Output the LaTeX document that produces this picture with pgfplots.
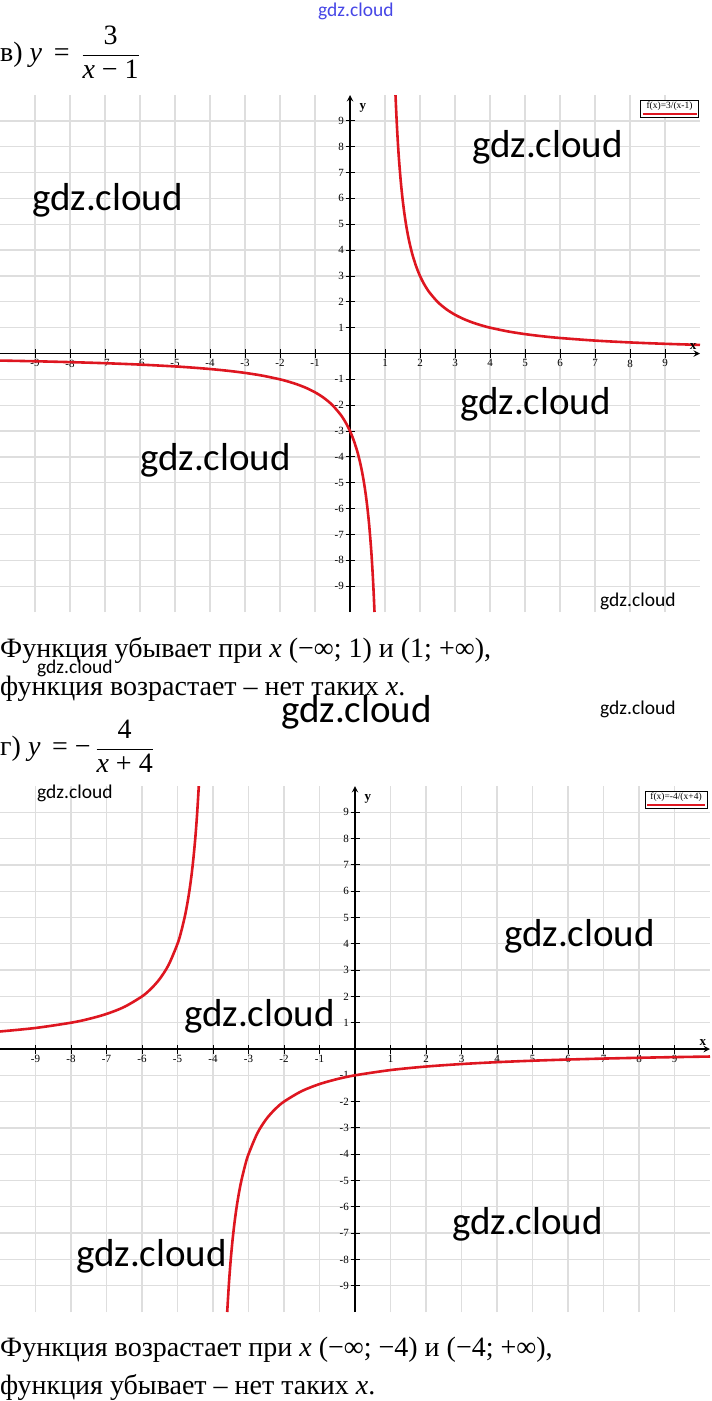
\documentclass[border=0pt]{standalone}
\usepackage{fontspec}
\setmainfont{Liberation Serif}
\newfontfamily\wm{Carlito}
\usepackage{pgfplots}
\pgfplotsset{compat=1.18}
\definecolor{curve}{RGB}{222,22,32}
\definecolor{gridc}{RGB}{222,222,222}
\definecolor{wmblue}{RGB}{70,70,230}
\pgfplotsset{myax/.style={
  scale only axis, axis lines=middle,
  xmin=-10,xmax=10,ymin=-10,ymax=10,
  xtick={-9,-8,-7,-6,-5,-4,-3,-2,-1,1,2,3,4,5,6,7,8,9},
  ytick={-9,-8,-7,-6,-5,-4,-3,-2,-1,1,2,3,4,5,6,7,8,9},
  grid=major, major grid style={line width=1.3pt, gridc},
  axis line style={line width=1.8pt, black},
  tick style={line width=0.9pt, black},
  major tick length=9pt, tick align=center,
  /pgf/number format/assume math mode=true,
  ticklabel style={font=\fontsize{11}{11}\selectfont, inner sep=1.5pt},
  xlabel={x}, ylabel={y},
  every axis x label/.style={at={(axis description cs:0.99,0.5)}, anchor=south, font=\bfseries\fontsize{13}{13}\selectfont},
  every axis y label/.style={at={(axis description cs:0.5,0.99)}, anchor=north west, xshift=6pt, font=\bfseries\fontsize{13}{13}\selectfont},
  clip=true,
}}
\pgfplotstableread{
x y
-10 -0.2727
-9 -0.3
-8 -0.3333
-7 -0.375
-6 -0.4286
-5 -0.5
-4.5 -0.5455
-4 -0.6
-3.5 -0.6667
-3 -0.75
-2.5 -0.8571
-2 -1
-1.75 -1.0909
-1.5 -1.2
-1.25 -1.3333
-1 -1.5
-0.75 -1.7143
-0.5 -2
-0.25 -2.4
-0.1 -2.7273
0 -3
0.1 -3.3333
0.2 -3.75
0.25 -4
0.3 -4.2857
0.35 -4.6154
0.4 -5
0.45 -5.4545
0.5 -6
0.55 -6.6667
0.6 -7.5
0.625 -8
0.65 -8.5714
0.675 -9.2308
0.7 -10
}\leftA
\pgfplotstableread{
x y
1.3 10
1.325 9.2308
1.35 8.5714
1.375 8
1.4 7.5
1.45 6.6667
1.5 6
1.55 5.4545
1.6 5
1.65 4.6154
1.7 4.2857
1.75 4
1.8 3.75
1.9 3.3333
2 3
2.1 2.7273
2.25 2.4
2.5 2
2.75 1.7143
3 1.5
3.25 1.3333
3.5 1.2
3.75 1.0909
4 1
4.5 0.8571
5 0.75
5.5 0.6667
6 0.6
7 0.5
8 0.4286
9 0.375
10 0.3333
}\rightA
\pgfplotstableread{
x y
-10 0.6667
-9 0.8
-8 1
-7.5 1.1429
-7 1.3333
-6.5 1.6
-6 2
-5.75 2.2857
-5.5 2.6667
-5.25 3.2
-5 4
-4.9 4.4444
-4.8 5
-4.75 5.3333
-4.7 5.7143
-4.65 6.1538
-4.6 6.6667
-4.55 7.2727
-4.5 8
-4.45 8.8889
-4.4 10
}\leftB
\pgfplotstableread{
x y
-3.6 -10
-3.55 -8.8889
-3.5 -8
-3.45 -7.2727
-3.4 -6.6667
-3.35 -6.1538
-3.3 -5.7143
-3.25 -5.3333
-3.2 -5
-3.1 -4.4444
-3 -4
-2.75 -3.2
-2.5 -2.6667
-2.25 -2.2857
-2 -2
-1.5 -1.6
-1 -1.3333
-0.5 -1.1429
0 -1
1 -0.8
2 -0.6667
3 -0.5714
4 -0.5
5 -0.4444
6 -0.4
7 -0.3636
8 -0.3333
9 -0.3077
10 -0.2857
}\rightB
\begin{document}
\begin{tikzpicture}
\path[use as bounding box] (0pt,0pt) rectangle (712pt,-1401pt);
% plot 1
\begin{axis}[myax, width=700pt, height=517pt, at={(0pt,-612pt)}, anchor=south west]
\addplot[curve, line width=2.6pt, smooth] table {\leftA};
\addplot[curve, line width=2.6pt, smooth] table {\rightA};
\end{axis}
% plot 2
\begin{axis}[myax, width=710pt, height=526pt, at={(0pt,-1312pt)}, anchor=south west]
\addplot[curve, line width=2.6pt, smooth] table {\leftB};
\addplot[curve, line width=2.6pt, smooth] table {\rightB};
\end{axis}
% legends
\node[draw, line width=0.8pt, fill=white, inner sep=2pt, align=center, font=\fontsize{9.5}{9.5}\selectfont] at (669.5pt,-108.5pt) {f(x)=3/(x-1)\\[-3pt]\textcolor{curve}{\rule{54pt}{2pt}}};
\node[draw, line width=0.8pt, fill=white, inner sep=2pt, align=center, font=\fontsize{9.5}{9.5}\selectfont] at (676pt,-799.5pt) {f(x)=-4/(x+4)\\[-3pt]\textcolor{curve}{\rule{58pt}{2pt}}};
% headings
\node[anchor=west, inner sep=0pt, font=\fontsize{28}{30}\selectfont] at (0pt,-52pt) {в)\ \textit{y}\,\ =\ \,${\displaystyle\frac{\mbox{3}}{\mbox{\textit{x} − 1}}}$};
\node[anchor=west, inner sep=0pt, font=\fontsize{28}{30}\selectfont] at (0pt,-746pt) {г)\ \textit{y}\,\ =\ −\,${\displaystyle\frac{\mbox{4}}{\mbox{\textit{x} + 4}}}$};
% text
\node[anchor=base west, inner sep=0pt, font=\fontsize{28}{30}\selectfont] at (0pt,-657pt) {Функция убывает при \textit{x} (−∞;  1) и (1; +∞),};
\node[anchor=base west, inner sep=0pt, font=\fontsize{28}{30}\selectfont] at (0pt,-695pt) {функция возрастает – нет таких \textit{x}.};
\node[anchor=base west, inner sep=0pt, font=\fontsize{28}{30}\selectfont] at (0pt,-1356pt) {Функция возрастает при \textit{x} (−∞;\ −4) и (−4;\ +∞),};
\node[anchor=base west, inner sep=0pt, font=\fontsize{28}{30}\selectfont] at (0pt,-1394pt) {функция убывает – нет таких \textit{x}.};
% watermarks
\begin{scope}[every node/.style={anchor=west, inner sep=0pt}]
\node[font=\wm\fontsize{39}{39}\selectfont] at (472pt,-147pt) {gdz.cloud};
\node[font=\wm\fontsize{39}{39}\selectfont] at (32pt,-200pt) {gdz.cloud};
\node[font=\wm\fontsize{39}{39}\selectfont] at (460pt,-404pt) {gdz.cloud};
\node[font=\wm\fontsize{39}{39}\selectfont] at (140pt,-460pt) {gdz.cloud};
\node[font=\wm\fontsize{19.5}{20}\selectfont] at (600pt,-601pt) {gdz.cloud};
\node[font=\wm\fontsize{19.5}{20}\selectfont] at (37pt,-668pt) {gdz.cloud};
\node[font=\wm\fontsize{39}{39}\selectfont] at (281pt,-712pt) {gdz.cloud};
\node[font=\wm\fontsize{19.5}{20}\selectfont] at (600pt,-709pt) {gdz.cloud};
\node[font=\wm\fontsize{19.5}{20}\selectfont] at (37pt,-793pt) {gdz.cloud};
\node[font=\wm\fontsize{39}{39}\selectfont] at (504pt,-936pt) {gdz.cloud};
\node[font=\wm\fontsize{39}{39}\selectfont] at (184pt,-1016pt) {gdz.cloud};
\node[font=\wm\fontsize{39}{39}\selectfont] at (452pt,-1224pt) {gdz.cloud};
\node[font=\wm\fontsize{39}{39}\selectfont] at (76pt,-1256pt) {gdz.cloud};
\node[font=\wm\fontsize{19.5}{20}\selectfont, text=wmblue] at (318pt,-11pt) {gdz.cloud};
\end{scope}
\end{tikzpicture}
\end{document}
